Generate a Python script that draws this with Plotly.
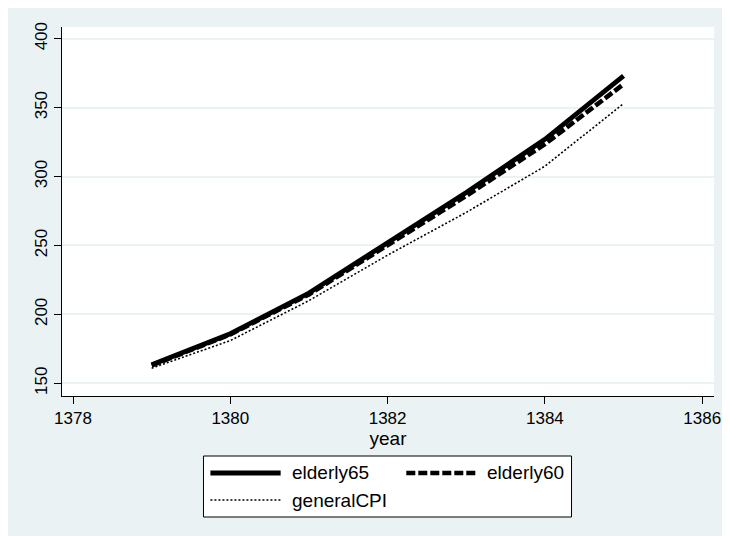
import plotly.graph_objects as go

# ---- data ----
years = [1379, 1380, 1381, 1382, 1383, 1384, 1385]
elderly65 = [163.5, 186, 215.5, 252, 288.5, 327, 373]
elderly60 = [163, 185.5, 214.5, 250.5, 286, 323.5, 367]
generalCPI = [161, 181, 210, 243, 274, 307.5, 353]

series_names = ["elderly65", "elderly60", "generalCPI"]
x_ticks = [1378, 1380, 1382, 1384, 1386]
y_ticks = [150, 200, 250, 300, 350, 400]
x_title = "year"

# ---- styles ----
OFF = 8  # page body margin
W, H = 730 - OFF, 536 - OFF
L, R, T, B = 62 - OFF, 721 - OFF, 27 - OFF, 396 - OFF  # plot area in figure pixels
BG = "#EAF2F3"
FONT = "Liberation Sans, Arial, sans-serif"
widths = [4.8, 4.6, 1.6]
dashes = ["solid", "9px,3px", "2px,2px"]
values = [elderly65, elderly60, generalCPI]


def px_x(p):
    return (p - OFF - L) / (R - L)


def px_y(p):
    return (B - (p - OFF)) / (B - T)


fig = go.Figure()
for name, vals, w, d in zip(series_names, values, widths, dashes):
    fig.add_trace(go.Scatter(
        x=years, y=vals, mode="lines", name=name,
        line=dict(color="black", width=w, dash=d),
        showlegend=False,
    ))

shapes = []
# manual legend (Stata style, two columns); coordinates in page pixels
lg_x0, lg_x1, lg_y0, lg_y1 = 205, 577, 456, 517
shapes.append(dict(type="rect", xref="paper", yref="paper",
                   x0=px_x(lg_x0), x1=px_x(lg_x1), y0=px_y(lg_y1), y1=px_y(lg_y0),
                   fillcolor="white", line=dict(color="black", width=1)))
col_x = [212, 410]
row_y = [473, 500]
sample_len = 71
annotations = []
for i, (name, w, d) in enumerate(zip(series_names, widths, dashes)):
    cx = col_x[i % 2]
    ry = row_y[i // 2]
    shapes.append(dict(type="line", xref="paper", yref="paper",
                       x0=px_x(cx), x1=px_x(cx + sample_len),
                       y0=px_y(ry), y1=px_y(ry),
                       line=dict(color="black", width=w, dash=d)))
    annotations.append(dict(xref="paper", yref="paper",
                            x=px_x(cx + sample_len + 9), y=px_y(ry),
                            xanchor="left", yanchor="middle", showarrow=False,
                            text=name, font=dict(family=FONT, size=19, color="black")))

fig.update_layout(
    width=W, height=H, autosize=False,
    margin=dict(l=L, r=W - R, t=T, b=H - B, pad=0),
    paper_bgcolor=BG, plot_bgcolor="white",
    font=dict(family=FONT, size=17, color="black"),
    shapes=shapes, annotations=annotations,
    showlegend=False,
)
fig.update_xaxes(
    range=[1377.86, 1386.15], tickvals=x_ticks, ticktext=[str(t) for t in x_ticks],
    showgrid=False, zeroline=False, showline=True, linecolor="black", linewidth=1,
    ticks="outside", ticklen=7, tickcolor="black", tickwidth=1,
    ticklabeloverflow="allow",
    tickfont=dict(family=FONT, size=17, color="black"),
    title=dict(text=x_title, standoff=2, font=dict(family=FONT, size=19, color="black")),
)
fig.update_yaxes(
    range=[140.8, 408.5], tickvals=y_ticks, ticktext=[str(t) for t in y_ticks],
    showgrid=True, gridcolor=BG, gridwidth=2, zeroline=False,
    showline=True, linecolor="black", linewidth=1,
    ticks="outside", ticklen=7, tickcolor="black", tickwidth=1, tickangle=-90,
    tickfont=dict(family=FONT, size=17, color="black"),
)

fig.write_html("out.html", config={"responsive": False})
